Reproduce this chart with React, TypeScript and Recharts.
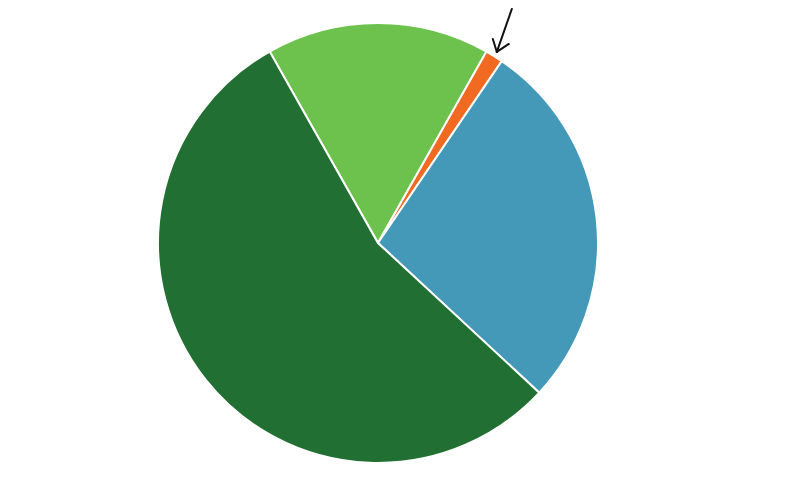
import React from "react";
import { PieChart, Pie, Cell } from "recharts";

// slices, clockwise from the top-left boundary
const sliceNames = ["Light green", "Orange", "Blue", "Dark green"];
const sliceValues = [16.4, 1.3, 27.4, 54.9];
const sliceColors = ["#6CC24C", "#F26A22", "#4499B9", "#216F33"];
const highlightName = "Orange";

const data = sliceNames.map((name, i) => ({ name, value: sliceValues[i] }));

const RADIAN = Math.PI / 180;

// hand-drawn style arrow pointing at the thin slice
const ArrowLabel = (props: any) => {
  const { cx, cy, midAngle, outerRadius, name } = props;
  if (name !== highlightName) return null;
  const r = outerRadius + 5;
  const tipX = cx + r * Math.cos(-midAngle * RADIAN);
  const tipY = cy + r * Math.sin(-midAngle * RADIAN);
  const tailX = tipX + 15;
  const tailY = tipY - 43;
  return (
    <g stroke="#111" strokeWidth={2} fill="none" strokeLinecap="round">
      <line x1={tailX} y1={tailY} x2={tipX} y2={tipY} />
      <line x1={tipX} y1={tipY} x2={tipX - 4} y2={tipY - 13} />
      <line x1={tipX} y1={tipY} x2={tipX + 12} y2={tipY - 8} />
    </g>
  );
};

export default function App() {
  return (
    <div style={{ position: "absolute", left: 0, top: 0, background: "#fff" }}>
      <PieChart width={800} height={484}>
        <Pie
          data={data}
          dataKey="value"
          nameKey="name"
          cx={373}
          cy={238}
          outerRadius={220}
          startAngle={119.5}
          endAngle={-240.5}
          stroke="#ffffff"
          strokeWidth={2}
          label={ArrowLabel}
          labelLine={false}
          isAnimationActive={false}
        >
          {data.map((entry, index) => (
            <Cell key={`cell-${index}`} fill={sliceColors[index]} />
          ))}
        </Pie>
      </PieChart>
    </div>
  );
}
